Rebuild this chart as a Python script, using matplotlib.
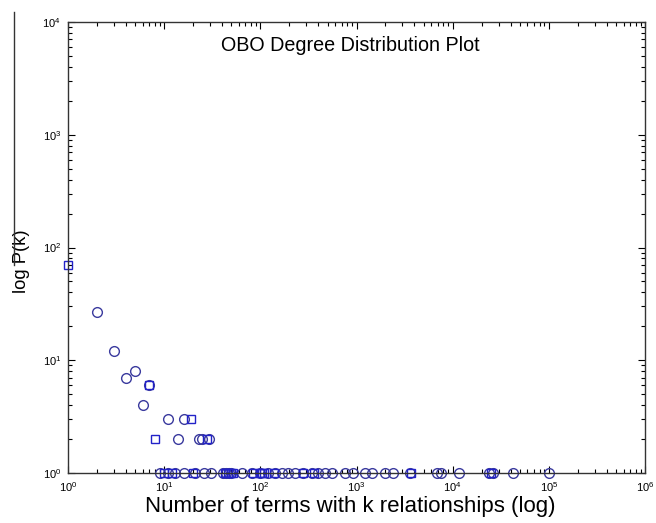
import matplotlib
matplotlib.use("Agg")
import matplotlib.pyplot as plt
from matplotlib.lines import Line2D

plt.rcParams['font.family'] = ['Liberation Sans', 'DejaVu Sans']
plt.rcParams['mathtext.fontset'] = 'custom'
plt.rcParams['mathtext.rm'] = 'Liberation Sans'
plt.rcParams['mathtext.it'] = 'Liberation Sans'

# Upper (k > 1) points
circle_x = [2, 3, 4, 5, 6, 7, 11, 14, 16, 23, 25, 29]
circle_y = [27, 12, 7, 8, 4, 6, 3, 2, 3, 2, 2, 2]
square_x = [1, 7, 8, 19, 28]
square_y = [70, 6, 2, 3, 2]

# Points on the P(k) = 1 row
row_circle_x = [9, 11, 13, 16, 21, 26, 31, 41, 44, 47, 50, 64, 81, 99, 121, 142,
                166, 195, 229, 279, 341, 400, 470, 551, 757, 924, 1222, 1436,
                1973, 2406, 3590, 6800, 7500, 11600, 24000, 26000, 42000, 100000]
row_square_x = [10, 12, 20, 43, 46, 49, 52, 84, 100, 104, 108, 140, 280, 360,
                3700, 25000]

circ_col = '#3a3a9e'
sq_col = '#2222c8'

fig = plt.figure(figsize=(6.56, 5.23), dpi=100)
ax = fig.add_axes([68/656, 1-473/523, 577/656, 451/523])

ax.plot(circle_x, circle_y, 'o', ms=7, mfc='none', mec=circ_col, mew=1.0, clip_on=False)
ax.plot(square_x, square_y, 's', ms=6, mfc='none', mec=sq_col, mew=1.0, clip_on=False)
ax.plot(row_circle_x, [1]*len(row_circle_x), 'o', ms=7, mfc='none', mec=circ_col, mew=1.0, clip_on=False)
ax.plot(row_square_x, [1]*len(row_square_x), 's', ms=6, mfc='none', mec=sq_col, mew=1.0, clip_on=False)

ax.set_xscale('log')
ax.set_yscale('log')
ax.set_xlim(1, 1e6)
ax.set_ylim(1, 1e4)

ax.tick_params(which='both', direction='in', top=True, right=True, labelsize=8, width=0.8)
ax.tick_params(which='major', length=5, pad=5)
ax.tick_params(which='minor', length=3)
for s in ax.spines.values():
    s.set_linewidth(1.0)
    s.set_color('#333333')

ax.set_xlabel('Number of terms with k relationships (log)', fontsize=16.0)
ax.xaxis.set_label_coords(0.49, -0.051)
ax.set_ylabel('log P(k)', fontsize=13.2)
ax.yaxis.set_label_coords(-0.066, 0.47)
ax.text(0.49, 0.948, 'OBO Degree Distribution Plot', transform=ax.transAxes,
        ha='center', va='center', fontsize=14.2)

fig.add_artist(Line2D([14/656, 14/656], [1-12/523, 1-265/523], color='#333333', lw=1.0))

fig.savefig('out.png', dpi=100)
